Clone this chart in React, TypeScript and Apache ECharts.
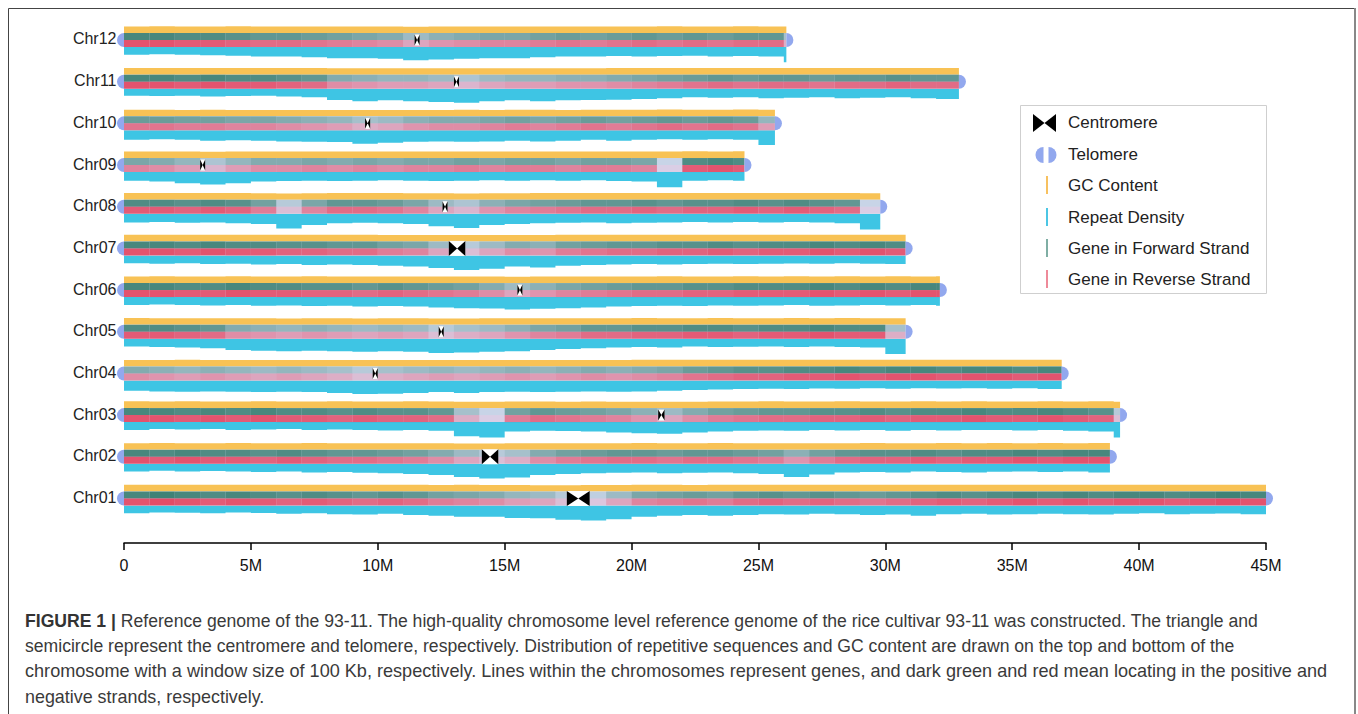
import React, { useEffect, useRef } from "react";
import * as echarts from "echarts";

// ---------------- DATA ----------------
const chromosomes = ["Chr01", "Chr02", "Chr03", "Chr04", "Chr05", "Chr06", "Chr07", "Chr08", "Chr09", "Chr10", "Chr11", "Chr12"];
// chromosome lengths in Mb
const chromLengths = [45.0, 38.85, 39.25, 36.95, 30.8, 32.15, 30.8, 29.8, 24.45, 25.65, 32.9, 26.1];
// centromere position (Mb)
const centromereStart = [17.45, 14.1, 21.05, 9.8, 12.4, 15.5, 12.8, 12.55, 3.0, 9.5, 13.0, 11.45];
const centromereEnd = [18.35, 14.75, 21.3, 10.0, 12.6, 15.7, 13.45, 12.75, 3.2, 9.7, 13.2, 11.65];

const xTickValues = [0, 5, 10, 15, 20, 25, 30, 35, 40, 45];

// gene density per 1 Mb window (relative, 0-1)
const gene01 = [0.85, 0.9, 0.85, 0.8, 0.85, 0.8, 0.75, 0.8, 0.75, 0.7, 0.75, 0.7, 0.6, 0.55, 0.5, 0.4, 0.35, 0.2, 0.15, 0.35, 0.55, 0.6, 0.65, 0.6, 0.7, 0.75, 0.7, 0.75, 0.7, 0.65, 0.7, 0.75, 0.8, 0.75, 0.8, 0.85, 0.8, 0.85, 0.8, 0.85, 0.85, 0.8, 0.85, 0.9, 0.85];
const gene02 = [0.85, 0.8, 0.85, 0.8, 0.8, 0.75, 0.8, 0.75, 0.7, 0.7, 0.65, 0.6, 0.5, 0.35, 0.2, 0.3, 0.5, 0.6, 0.65, 0.7, 0.7, 0.65, 0.7, 0.7, 0.65, 0.6, 0.45, 0.6, 0.7, 0.75, 0.75, 0.8, 0.75, 0.8, 0.8, 0.85, 0.8, 0.85, 0.85];
const gene03 = [0.85, 0.85, 0.8, 0.85, 0.8, 0.85, 0.8, 0.8, 0.75, 0.8, 0.75, 0.75, 0.7, 0.3, 0.1, 0.6, 0.7, 0.65, 0.6, 0.55, 0.45, 0.35, 0.5, 0.6, 0.65, 0.7, 0.7, 0.75, 0.75, 0.8, 0.75, 0.8, 0.8, 0.85, 0.8, 0.8, 0.85, 0.8, 0.75, 0.2];
const gene04 = [0.5, 0.45, 0.4, 0.45, 0.4, 0.35, 0.4, 0.35, 0.3, 0.2, 0.3, 0.35, 0.4, 0.35, 0.4, 0.45, 0.4, 0.45, 0.5, 0.45, 0.5, 0.55, 0.65, 0.7, 0.75, 0.75, 0.8, 0.8, 0.85, 0.8, 0.85, 0.85, 0.8, 0.85, 0.85, 0.8, 0.85];
const gene05 = [0.8, 0.8, 0.75, 0.7, 0.5, 0.45, 0.4, 0.45, 0.4, 0.35, 0.4, 0.35, 0.2, 0.3, 0.35, 0.45, 0.55, 0.6, 0.7, 0.7, 0.75, 0.75, 0.8, 0.8, 0.75, 0.8, 0.8, 0.85, 0.8, 0.8, 0.3];
const gene06 = [0.85, 0.85, 0.8, 0.8, 0.85, 0.8, 0.8, 0.75, 0.75, 0.7, 0.75, 0.7, 0.65, 0.6, 0.5, 0.35, 0.45, 0.55, 0.6, 0.65, 0.7, 0.7, 0.75, 0.75, 0.8, 0.8, 0.8, 0.85, 0.8, 0.85, 0.8, 0.85, 0.85];
const gene07 = [0.85, 0.85, 0.8, 0.85, 0.8, 0.8, 0.75, 0.75, 0.7, 0.7, 0.6, 0.55, 0.35, 0.2, 0.35, 0.5, 0.45, 0.6, 0.65, 0.7, 0.7, 0.75, 0.75, 0.8, 0.75, 0.8, 0.8, 0.85, 0.8, 0.85, 0.8];
const gene08 = [0.8, 0.8, 0.75, 0.8, 0.75, 0.6, 0.2, 0.55, 0.7, 0.7, 0.65, 0.55, 0.35, 0.25, 0.45, 0.55, 0.6, 0.65, 0.7, 0.7, 0.75, 0.7, 0.75, 0.75, 0.8, 0.75, 0.8, 0.75, 0.7, 0.1];
const gene09 = [0.55, 0.5, 0.4, 0.25, 0.4, 0.5, 0.5, 0.55, 0.5, 0.55, 0.5, 0.55, 0.55, 0.6, 0.55, 0.6, 0.6, 0.55, 0.6, 0.6, 0.55, 0.1, 0.8, 0.85, 0.8];
const gene10 = [0.65, 0.65, 0.6, 0.6, 0.55, 0.55, 0.5, 0.45, 0.4, 0.3, 0.35, 0.45, 0.5, 0.5, 0.55, 0.6, 0.55, 0.6, 0.65, 0.6, 0.65, 0.7, 0.65, 0.7, 0.65, 0.4];
const gene11 = [0.85, 0.85, 0.8, 0.85, 0.8, 0.8, 0.75, 0.7, 0.5, 0.45, 0.4, 0.4, 0.35, 0.25, 0.35, 0.4, 0.4, 0.45, 0.45, 0.5, 0.55, 0.6, 0.65, 0.7, 0.65, 0.7, 0.7, 0.65, 0.7, 0.7, 0.75, 0.7, 0.7];
const gene12 = [0.85, 0.85, 0.8, 0.8, 0.75, 0.7, 0.7, 0.65, 0.6, 0.55, 0.5, 0.35, 0.45, 0.5, 0.55, 0.55, 0.6, 0.65, 0.6, 0.65, 0.7, 0.65, 0.7, 0.65, 0.7, 0.7, 0.3];

// repeat density per 1 Mb window (fraction)
const rep01 = [0.47, 0.42, 0.44, 0.47, 0.42, 0.45, 0.5, 0.47, 0.52, 0.54, 0.5, 0.57, 0.62, 0.67, 0.67, 0.75, 0.77, 0.85, 0.9, 0.82, 0.67, 0.62, 0.57, 0.62, 0.57, 0.52, 0.54, 0.5, 0.52, 0.57, 0.54, 0.62, 0.52, 0.5, 0.54, 0.52, 0.5, 0.52, 0.54, 0.5, 0.47, 0.52, 0.5, 0.48, 0.52];
const rep02 = [0.47, 0.42, 0.47, 0.44, 0.47, 0.5, 0.47, 0.52, 0.5, 0.54, 0.57, 0.62, 0.67, 0.8, 0.88, 0.82, 0.67, 0.62, 0.57, 0.54, 0.52, 0.57, 0.54, 0.52, 0.57, 0.62, 0.8, 0.65, 0.52, 0.5, 0.52, 0.47, 0.5, 0.52, 0.48, 0.47, 0.5, 0.47, 0.52];
const rep03 = [0.47, 0.42, 0.44, 0.42, 0.47, 0.44, 0.42, 0.47, 0.45, 0.47, 0.5, 0.47, 0.52, 0.85, 0.92, 0.57, 0.52, 0.54, 0.57, 0.62, 0.67, 0.7, 0.62, 0.57, 0.52, 0.5, 0.52, 0.47, 0.5, 0.47, 0.52, 0.47, 0.5, 0.48, 0.47, 0.5, 0.47, 0.52, 0.57, 0.92];
const rep04 = [0.62, 0.67, 0.68, 0.67, 0.68, 0.7, 0.68, 0.7, 0.75, 0.82, 0.8, 0.75, 0.7, 0.75, 0.7, 0.68, 0.7, 0.68, 0.67, 0.68, 0.67, 0.62, 0.57, 0.54, 0.52, 0.5, 0.52, 0.48, 0.5, 0.47, 0.5, 0.47, 0.48, 0.47, 0.5, 0.47, 0.52];
const rep05 = [0.47, 0.5, 0.52, 0.57, 0.68, 0.72, 0.75, 0.72, 0.75, 0.78, 0.75, 0.78, 0.85, 0.82, 0.78, 0.75, 0.68, 0.62, 0.57, 0.52, 0.5, 0.52, 0.47, 0.5, 0.48, 0.47, 0.5, 0.47, 0.5, 0.52, 0.92];
const rep06 = [0.47, 0.44, 0.47, 0.5, 0.47, 0.52, 0.5, 0.54, 0.52, 0.57, 0.54, 0.57, 0.62, 0.67, 0.68, 0.75, 0.7, 0.67, 0.62, 0.57, 0.54, 0.52, 0.54, 0.5, 0.52, 0.5, 0.48, 0.52, 0.5, 0.47, 0.5, 0.48, 0.52];
const rep07 = [0.47, 0.5, 0.47, 0.52, 0.5, 0.54, 0.52, 0.57, 0.54, 0.57, 0.62, 0.67, 0.75, 0.88, 0.8, 0.67, 0.72, 0.62, 0.57, 0.54, 0.52, 0.54, 0.52, 0.5, 0.52, 0.5, 0.48, 0.5, 0.47, 0.5, 0.52];
const rep08 = [0.52, 0.5, 0.54, 0.52, 0.57, 0.62, 0.88, 0.67, 0.57, 0.54, 0.57, 0.62, 0.75, 0.85, 0.68, 0.62, 0.57, 0.54, 0.52, 0.57, 0.54, 0.52, 0.5, 0.52, 0.5, 0.52, 0.5, 0.52, 0.57, 0.95];
const rep09 = [0.52, 0.57, 0.67, 0.75, 0.67, 0.57, 0.54, 0.52, 0.54, 0.52, 0.5, 0.52, 0.54, 0.52, 0.5, 0.52, 0.5, 0.52, 0.5, 0.54, 0.57, 0.92, 0.52, 0.5, 0.52];
const rep10 = [0.57, 0.54, 0.57, 0.62, 0.6, 0.62, 0.67, 0.68, 0.7, 0.8, 0.75, 0.68, 0.67, 0.68, 0.67, 0.62, 0.67, 0.62, 0.57, 0.62, 0.57, 0.54, 0.57, 0.54, 0.57, 0.88];
const rep11 = [0.42, 0.44, 0.42, 0.47, 0.44, 0.42, 0.47, 0.52, 0.68, 0.75, 0.7, 0.75, 0.8, 0.85, 0.75, 0.7, 0.75, 0.7, 0.68, 0.67, 0.62, 0.57, 0.52, 0.54, 0.52, 0.57, 0.54, 0.52, 0.57, 0.54, 0.52, 0.57, 0.62];
const rep12 = [0.47, 0.44, 0.47, 0.5, 0.52, 0.57, 0.57, 0.62, 0.67, 0.68, 0.7, 0.8, 0.75, 0.7, 0.68, 0.67, 0.62, 0.57, 0.57, 0.54, 0.57, 0.54, 0.52, 0.57, 0.54, 0.57, 0.92];

// GC content per 1 Mb window (fraction)
const gc01 = [0.44, 0.45, 0.44, 0.45, 0.44, 0.44, 0.45, 0.44, 0.44, 0.45, 0.44, 0.44, 0.43, 0.44, 0.43, 0.43, 0.42, 0.42, 0.43, 0.43, 0.44, 0.44, 0.43, 0.44, 0.44, 0.45, 0.44, 0.44, 0.45, 0.44, 0.45, 0.44, 0.45, 0.44, 0.44, 0.45, 0.44, 0.45, 0.45, 0.44, 0.45, 0.44, 0.45, 0.44, 0.45];
const gc02 = [0.44, 0.45, 0.44, 0.44, 0.45, 0.44, 0.44, 0.45, 0.44, 0.44, 0.43, 0.43, 0.43, 0.42, 0.42, 0.43, 0.43, 0.44, 0.44, 0.44, 0.45, 0.44, 0.44, 0.45, 0.44, 0.44, 0.43, 0.44, 0.44, 0.45, 0.44, 0.44, 0.45, 0.44, 0.45, 0.44, 0.45, 0.44, 0.45];
const gc03 = [0.45, 0.44, 0.45, 0.44, 0.44, 0.45, 0.44, 0.44, 0.45, 0.44, 0.44, 0.45, 0.44, 0.43, 0.42, 0.44, 0.44, 0.43, 0.44, 0.43, 0.43, 0.42, 0.43, 0.44, 0.44, 0.45, 0.44, 0.44, 0.45, 0.44, 0.44, 0.45, 0.44, 0.45, 0.44, 0.44, 0.45, 0.44, 0.45, 0.43];
const gc04 = [0.43, 0.43, 0.44, 0.43, 0.43, 0.42, 0.43, 0.43, 0.42, 0.42, 0.43, 0.43, 0.42, 0.43, 0.43, 0.43, 0.42, 0.43, 0.43, 0.43, 0.44, 0.44, 0.44, 0.45, 0.44, 0.44, 0.45, 0.44, 0.45, 0.44, 0.44, 0.45, 0.44, 0.45, 0.44, 0.45, 0.44];
const gc05 = [0.45, 0.44, 0.44, 0.44, 0.43, 0.43, 0.42, 0.43, 0.43, 0.42, 0.43, 0.43, 0.42, 0.42, 0.43, 0.43, 0.43, 0.44, 0.44, 0.44, 0.45, 0.44, 0.44, 0.45, 0.44, 0.44, 0.45, 0.44, 0.45, 0.44, 0.43];
const gc06 = [0.44, 0.45, 0.44, 0.44, 0.45, 0.44, 0.44, 0.45, 0.44, 0.44, 0.44, 0.44, 0.43, 0.43, 0.43, 0.42, 0.43, 0.43, 0.44, 0.44, 0.44, 0.45, 0.44, 0.44, 0.45, 0.44, 0.45, 0.44, 0.45, 0.44, 0.45, 0.44, 0.45];
const gc07 = [0.44, 0.45, 0.44, 0.44, 0.45, 0.44, 0.44, 0.44, 0.45, 0.44, 0.43, 0.43, 0.43, 0.42, 0.43, 0.43, 0.43, 0.44, 0.44, 0.44, 0.45, 0.44, 0.44, 0.45, 0.44, 0.44, 0.45, 0.44, 0.44, 0.45, 0.44];
const gc08 = [0.44, 0.44, 0.45, 0.44, 0.44, 0.43, 0.42, 0.43, 0.44, 0.44, 0.44, 0.43, 0.43, 0.42, 0.43, 0.43, 0.44, 0.44, 0.44, 0.45, 0.44, 0.44, 0.45, 0.44, 0.44, 0.45, 0.44, 0.44, 0.44, 0.43];
const gc09 = [0.43, 0.43, 0.43, 0.42, 0.43, 0.43, 0.44, 0.43, 0.43, 0.44, 0.43, 0.44, 0.43, 0.44, 0.44, 0.43, 0.44, 0.44, 0.43, 0.44, 0.44, 0.43, 0.45, 0.44, 0.45];
const gc10 = [0.44, 0.44, 0.43, 0.44, 0.43, 0.43, 0.43, 0.43, 0.42, 0.42, 0.43, 0.43, 0.43, 0.44, 0.43, 0.44, 0.44, 0.43, 0.44, 0.44, 0.44, 0.45, 0.44, 0.44, 0.45, 0.44];
const gc11 = [0.45, 0.44, 0.45, 0.44, 0.44, 0.45, 0.44, 0.44, 0.43, 0.43, 0.43, 0.42, 0.43, 0.42, 0.43, 0.43, 0.43, 0.43, 0.43, 0.44, 0.44, 0.44, 0.44, 0.45, 0.44, 0.44, 0.45, 0.44, 0.45, 0.44, 0.44, 0.45, 0.44];
const gc12 = [0.44, 0.45, 0.44, 0.44, 0.45, 0.44, 0.44, 0.43, 0.43, 0.43, 0.43, 0.42, 0.43, 0.43, 0.43, 0.44, 0.44, 0.43, 0.44, 0.44, 0.44, 0.45, 0.44, 0.44, 0.45, 0.44, 0.43];

const geneDensity = [gene01, gene02, gene03, gene04, gene05, gene06, gene07, gene08, gene09, gene10, gene11, gene12];
const repeatDensity = [rep01, rep02, rep03, rep04, rep05, rep06, rep07, rep08, rep09, rep10, rep11, rep12];
const gcContent = [gc01, gc02, gc03, gc04, gc05, gc06, gc07, gc08, gc09, gc10, gc11, gc12];

const legendItems = ["Centromere", "Telomere", "GC Content", "Repeat Density", "Gene in Forward Strand", "Gene in Reverse Strand"];

const captionBold = "FIGURE 1 |";
const captionLines = [
  " Reference genome of the 93-11. The high-quality chromosome level reference genome of the rice cultivar 93-11 was constructed. The triangle and",
  "semicircle represent the centromere and telomere, respectively. Distribution of repetitive sequences and GC content are drawn on the top and bottom of the",
  "chromosome with a window size of 100 Kb, respectively. Lines within the chromosomes represent genes, and dark green and red mean locating in the positive and",
  "negative strands, respectively.",
];

// ---------------- STYLE ----------------
const FONT = '"Liberation Sans", Arial, Helvetica, sans-serif';
const GC_COLOR = "#f8c255";
const REP_COLOR = "#3ec5e4";
const FWD_COLOR = "#1f6e5b";
const REV_COLOR = "#e62c48";
const LAV = "#d9dff6";
const TEL_COLOR = "#92a8ee";
const BAND = 0.168; // half height of gene band (row units)
const GC_SCALE = 0.36;
const REP_SCALE = 0.4;

function renderChromosome(params: any, api: any) {
  const i = api.value(1) as number;
  const row = i;
  const len = chromLengths[i];
  const genes = geneDensity[i];
  const reps = repeatDensity[i];
  const gcs = gcContent[i];
  const nBins = Math.ceil(len);
  const P = (x: number, y: number) => api.coord([x, y]);
  const children: any[] = [];
  const pick = (arr: number[], j: number) => (arr[j] !== undefined ? arr[j] : arr[arr.length - 1]);

  // GC content (above)
  const gcPts: number[][] = [P(0, row + BAND)];
  for (let j = 0; j < nBins; j++) {
    const x1 = Math.min(j + 1, len);
    const y = row + BAND + pick(gcs, j) * GC_SCALE;
    gcPts.push(P(j, y), P(x1, y));
  }
  gcPts.push(P(len, row + BAND));
  children.push({ type: "polygon", shape: { points: gcPts }, style: { fill: GC_COLOR } });

  // Repeat density (below)
  const repPts: number[][] = [P(0, row - BAND)];
  for (let j = 0; j < nBins; j++) {
    const x1 = Math.min(j + 1, len);
    const y = row - BAND - pick(reps, j) * REP_SCALE;
    repPts.push(P(j, y), P(x1, y));
  }
  repPts.push(P(len, row - BAND));
  children.push({ type: "polygon", shape: { points: repPts }, style: { fill: REP_COLOR } });

  // Background of gene band
  const a = P(0, row + BAND);
  const b = P(len, row - BAND);
  const mid = P(0, row)[1];
  children.push({ type: "rect", shape: { x: a[0], y: a[1], width: b[0] - a[0], height: b[1] - a[1] }, style: { fill: LAV } });

  // Gene density windows
  for (let j = 0; j < nBins; j++) {
    const x0 = P(j, row)[0];
    const x1 = P(Math.min(j + 1, len), row)[0];
    const g = pick(genes, j);
    children.push({
      type: "rect",
      shape: { x: x0, y: a[1], width: x1 - x0, height: mid - a[1] },
      style: { fill: FWD_COLOR, opacity: Math.min(1, g * 0.92) },
    });
    children.push({
      type: "rect",
      shape: { x: x0, y: mid, width: x1 - x0, height: b[1] - mid },
      style: { fill: REV_COLOR, opacity: Math.min(1, g * 0.92) },
    });
  }

  // Centromere bow-tie
  const cs = P(centromereStart[i], row)[0];
  const ce = P(centromereEnd[i], row)[0];
  const cm = (cs + ce) / 2;
  const hh = ce - cs > 10 ? 7.5 : 5.5;
  children.push({ type: "rect", shape: { x: cs, y: mid - hh, width: ce - cs, height: hh * 2 }, style: { fill: "#ffffff" } });
  children.push({ type: "polygon", shape: { points: [[cs, mid - hh], [cs, mid + hh], [cm, mid]] }, style: { fill: "#000" } });
  children.push({ type: "polygon", shape: { points: [[ce, mid - hh], [ce, mid + hh], [cm, mid]] }, style: { fill: "#000" } });

  // Telomeres
  const r = (b[1] - a[1]) / 2;
  children.push({ type: "sector", shape: { cx: a[0], cy: mid, r, r0: 0, startAngle: Math.PI / 2, endAngle: (Math.PI * 3) / 2 }, style: { fill: TEL_COLOR } });
  children.push({ type: "sector", shape: { cx: b[0], cy: mid, r, r0: 0, startAngle: -Math.PI / 2, endAngle: Math.PI / 2 }, style: { fill: TEL_COLOR } });

  // Label
  children.push({
    type: "text",
    x: a[0] - r - 0.5,
    y: mid - 1,
    style: { text: chromosomes[i], fill: "#222", font: `16px ${FONT}`, align: "right", verticalAlign: "middle" },
  });

  return { type: "group", children };
}

function buildGraphic() {
  const g: any[] = [];
  // outer frame
  g.push({ type: "rect", shape: { x: 8.5, y: 8.5, width: 1346, height: 720 }, style: { fill: "none", stroke: "#444", lineWidth: 1 } });
  g.push({ type: "line", shape: { x1: 1355, y1: 8, x2: 1355, y2: 714 }, style: { stroke: "#888", lineWidth: 2 } });

  // legend box
  g.push({ type: "rect", shape: { x: 1020.5, y: 105.5, width: 246, height: 188 }, style: { fill: "#fff", stroke: "#cfcfcf", lineWidth: 1 } });
  // centromere icon
  g.push({ type: "polygon", shape: { points: [[1033, 114], [1033, 132], [1044.5, 123]] }, style: { fill: "#000" } });
  g.push({ type: "polygon", shape: { points: [[1056, 114], [1056, 132], [1044.5, 123]] }, style: { fill: "#000" } });
  // telomere icon
  g.push({ type: "sector", shape: { cx: 1043.5, cy: 155, r: 8, r0: 0, startAngle: Math.PI / 2, endAngle: (Math.PI * 3) / 2 }, style: { fill: TEL_COLOR } });
  g.push({ type: "sector", shape: { cx: 1048.5, cy: 155, r: 8, r0: 0, startAngle: -Math.PI / 2, endAngle: Math.PI / 2 }, style: { fill: TEL_COLOR } });
  // line icons
  const lineIcons = [
    { y: 185, c: "#f7c160" },
    { y: 217, c: "#4cc6e4" },
    { y: 248, c: "#7faea4" },
    { y: 279, c: "#ee8a99" },
  ];
  lineIcons.forEach((l) => {
    g.push({ type: "line", shape: { x1: 1047, y1: l.y - 9, x2: 1047, y2: l.y + 9 }, style: { stroke: l.c, lineWidth: 2 } });
  });
  const legendY = [122, 154, 185, 217, 248, 279];
  legendItems.forEach((t, k) => {
    g.push({ type: "text", x: 1068, y: legendY[k], style: { text: t, fill: "#222", font: `17px ${FONT}`, verticalAlign: "middle", align: "left" } });
  });

  // caption
  const capY = [621, 646, 671, 697];
  const capFont = [17.6, 17.6, 18.1, 17.9];
  captionLines.forEach((t, k) => {
    if (k === 0) {
      g.push({
        type: "text",
        x: 25,
        y: capY[k],
        style: {
          text: `{b|${captionBold}}{n|${t}}`,
          verticalAlign: "middle",
          rich: {
            b: { font: `bold ${capFont[k]}px ${FONT}`, fill: "#333" },
            n: { font: `${capFont[k]}px ${FONT}`, fill: "#3a3a3a" },
          },
        },
      });
    } else {
      g.push({ type: "text", x: 25, y: capY[k], style: { text: t, fill: "#3a3a3a", font: `${capFont[k]}px ${FONT}`, verticalAlign: "middle" } });
    }
  });
  return g;
}

export default function App() {
  const ref = useRef<HTMLDivElement>(null);
  useEffect(() => {
    if (!ref.current) return;
    const chart = echarts.init(ref.current, undefined, { renderer: "svg" });
    const option: any = {
      animation: false,
      backgroundColor: "#fff",
      grid: { left: 124, width: 1142, top: 19.16, height: 523.9 },
      xAxis: {
        type: "value",
        min: 0,
        max: 45,
        interval: 5,
        axisLine: { show: true, onZero: false, lineStyle: { color: "#000", width: 1.5 } },
        axisTick: { show: true, length: 7, lineStyle: { color: "#000", width: 1.5 } },
        splitLine: { show: false },
        axisLabel: {
          fontSize: 16,
          fontFamily: FONT,
          color: "#111",
          margin: 14,
          formatter: (v: number) => (xTickValues.includes(v) ? (v === 0 ? "0" : `${v}M`) : ""),
        },
      },
      yAxis: { type: "value", min: -1.07, max: 11.5, show: false },
      series: [
        {
          type: "custom",
          clip: false,
          renderItem: renderChromosome,
          encode: { x: 0, y: 1 },
          data: chromosomes.map((_, i) => [0, i]),
        },
      ],
      graphic: buildGraphic(),
    };
    chart.setOption(option);
    return () => chart.dispose();
  }, []);
  return <div ref={ref} style={{ position: "absolute", left: 0, top: 0, width: 1358, height: 714 }} />;
}
